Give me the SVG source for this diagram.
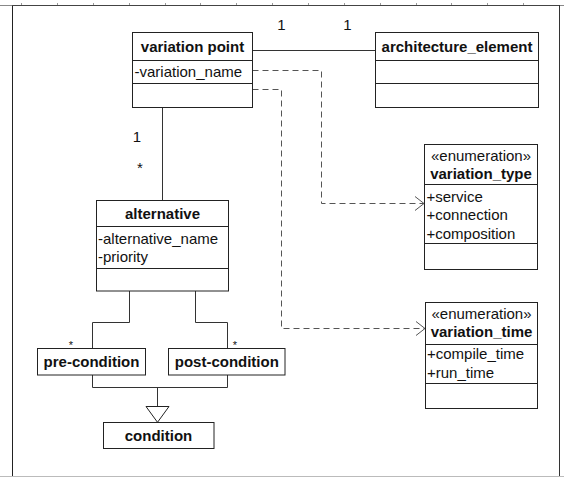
<svg xmlns="http://www.w3.org/2000/svg" width="564" height="477" viewBox="0 0 564 477">
<style>
.box{fill:#fff;stroke:#222;stroke-width:1}
.div{stroke:#222;stroke-width:1}
.ln{fill:none;stroke:#333;stroke-width:1}
.dash{fill:none;stroke:#555;stroke-width:1;stroke-dasharray:6 4}
.t{font-family:"Liberation Sans",Arial,sans-serif;font-size:15px;fill:#111}
.b{font-weight:bold;text-anchor:middle}
.c{text-anchor:middle}
.s{font-size:11px}
.tick{stroke:#999;stroke-width:1}
</style>
<defs>
<marker id="open" markerWidth="12" markerHeight="16" refX="10" refY="8" orient="auto" markerUnits="userSpaceOnUse">
<path d="M1,1 L10,8 L1,15" fill="none" stroke="#555" stroke-width="1"/>
</marker>
</defs>
<rect width="564" height="477" fill="#fff"/>
<g id="frame">
<line x1="0" y1="5.5" x2="564" y2="5.5" stroke="#888"/>
<path class="tick" d="M21.5,3V5M57.5,3V5M93.5,3V5M129.5,3V5M165.5,3V5M200.5,3V5M236.5,3V5M272.5,3V5M308.5,3V5M344.5,3V5M380.5,3V5M416.5,3V5M451.5,3V5M487.5,3V5M523.5,3V5"/>
<line x1="12.5" y1="5" x2="12.5" y2="476" stroke="#222"/>
<line x1="559.5" y1="5" x2="559.5" y2="476" stroke="#333"/>
<line x1="12" y1="5.5" x2="559" y2="5.5" stroke="#444"/>
<line x1="0" y1="476.5" x2="564" y2="476.5" stroke="#bbb"/>
</g>
<g id="connectors">
<line class="ln" x1="252" y1="50.5" x2="375.5" y2="50.5"/>
<line class="ln" x1="162.5" y1="107" x2="162.5" y2="200"/>
<polyline class="ln" points="129.5,291 129.5,322.5 92.5,322.5 92.5,348"/>
<polyline class="ln" points="195.5,291 195.5,322.5 227.5,322.5 227.5,348"/>
<polyline class="ln" points="92.5,375 92.5,387.5 227.5,387.5 227.5,375"/>
<line class="ln" x1="157.5" y1="387.5" x2="157.5" y2="406.5"/>
<polygon points="146,406.5 169,406.5 157.5,422.3" fill="#fff" stroke="#222"/>
<polyline class="dash" points="252.5,70.5 321.5,70.5 321.5,203.5 424,203.5" marker-end="url(#open)"/>
<polyline class="dash" points="252.5,89.5 281.5,89.5 281.5,328.5 425,328.5" marker-end="url(#open)"/>
<text class="t c" x="281.5" y="30">1</text>
<text class="t c" x="347.5" y="30">1</text>
<text class="t c" x="137" y="142">1</text>
<text class="t c" x="140" y="173">*</text>
<text class="t c s" x="71" y="349">*</text>
<text class="t c s" x="235" y="349">*</text>
</g>
<g id="variation_point">
<rect class="box" x="132.5" y="32.5" width="120" height="75"/>
<line class="div" x1="132.5" y1="60.5" x2="252.5" y2="60.5"/>
<line class="div" x1="132.5" y1="83.5" x2="252.5" y2="83.5"/>
<text class="t b" x="192.5" y="51.5">variation point</text>
<text class="t" x="134.5" y="77">-variation_name</text>
</g>
<g id="architecture_element">
<rect class="box" x="375.5" y="32.5" width="163" height="75"/>
<line class="div" x1="375.5" y1="60.5" x2="538.5" y2="60.5"/>
<line class="div" x1="375.5" y1="83.5" x2="538.5" y2="83.5"/>
<text class="t b" x="457" y="51.5">architecture_element</text>
</g>
<g id="variation_type">
<rect class="box" x="424.5" y="144.5" width="113" height="125"/>
<line class="div" x1="424.5" y1="184.5" x2="537.5" y2="184.5"/>
<line class="div" x1="424.5" y1="243.5" x2="537.5" y2="243.5"/>
<text class="t c" x="481" y="160.5">«enumeration»</text>
<text class="t b" x="481" y="179">variation_type</text>
<text class="t" x="426.5" y="202">+service</text>
<text class="t" x="426.5" y="220">+connection</text>
<text class="t" x="426.5" y="239">+composition</text>
</g>
<g id="variation_time">
<rect class="box" x="425.5" y="302.5" width="112" height="106"/>
<line class="div" x1="425.5" y1="344.5" x2="537.5" y2="344.5"/>
<line class="div" x1="425.5" y1="383.5" x2="537.5" y2="383.5"/>
<text class="t c" x="481.5" y="318.5">«enumeration»</text>
<text class="t b" x="481.5" y="337">variation_time</text>
<text class="t" x="427" y="359">+compile_time</text>
<text class="t" x="427" y="377.5">+run_time</text>
</g>
<g id="alternative">
<rect class="box" x="96.5" y="200.5" width="132" height="90.5"/>
<line class="div" x1="96.5" y1="226.5" x2="228.5" y2="226.5"/>
<line class="div" x1="96.5" y1="268.5" x2="228.5" y2="268.5"/>
<text class="t b" x="162.5" y="218.5">alternative</text>
<text class="t" x="98" y="243.5">-alternative_name</text>
<text class="t" x="98" y="262">-priority</text>
</g>
<g id="pre_condition">
<rect class="box" x="37.5" y="348.5" width="108" height="26.5"/>
<text class="t b" x="91.5" y="367">pre-condition</text>
</g>
<g id="post_condition">
<rect class="box" x="168.5" y="348.5" width="116.5" height="26.5"/>
<text class="t b" x="226.8" y="367">post-condition</text>
</g>
<g id="condition">
<rect class="box" x="103.5" y="422.5" width="110.5" height="26"/>
<text class="t b" x="158.5" y="440.5">condition</text>
</g>
</svg>
